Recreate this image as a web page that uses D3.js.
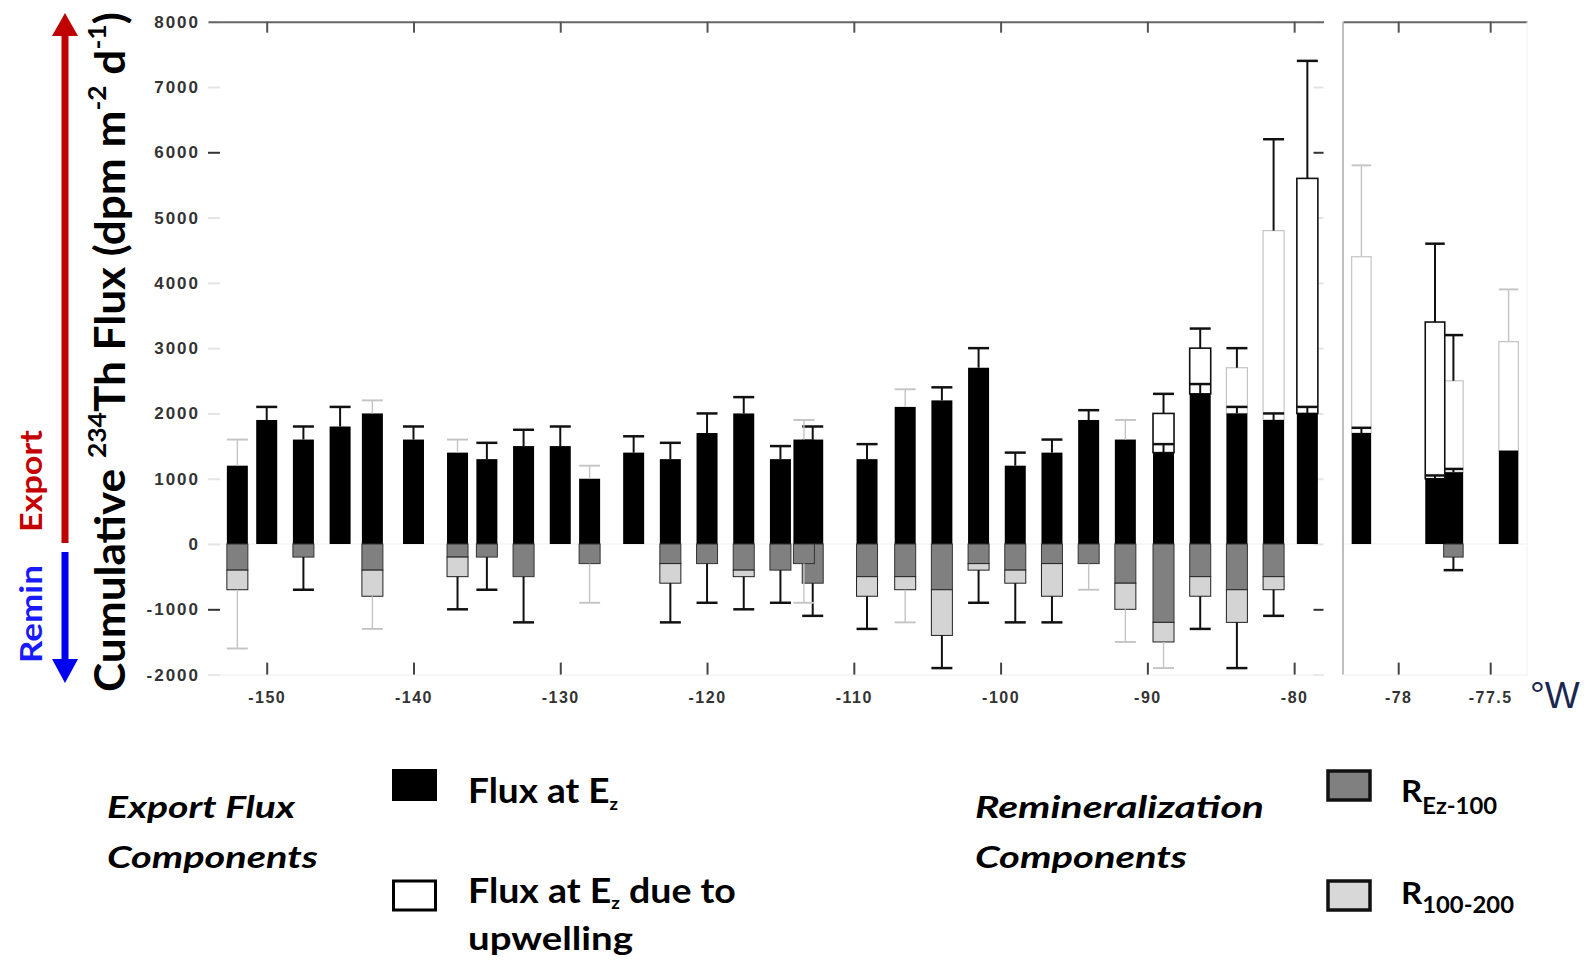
<!DOCTYPE html>
<html>
<head>
<meta charset="utf-8">
<script src="https://cdn.jsdelivr.net/npm/d3@7"></script>
<style>
  body { margin: 0; background: #fff; }
  svg { display: block; }
</style>
</head>
<body>
<div id="chart"></div>
<script>
// ---- left panel: stations 152W .. 79W ----
const lonL    = [-152, -150, -147.5, -145, -142.8, -140, -137, -135, -132.5, -130, -128, -125, -122.5, -120, -117.5,
                 -115, -113.4, -112.8, -109.1, -106.5, -104, -101.5, -99, -96.5, -94, -91.5, -88.9, -86.4, -83.9, -81.4, -79.1];
// flux at Ez (black)
const fluxEzL = [1200, 1900, 1600, 1800, 2000, 1600, 1400, 1300, 1500, 1500, 1000, 1400, 1300, 1700, 2000,
                 1300, 1600, 1600, 1300, 2100, 2200, 2700, 1200, 1400, 1900, 1600, 1400, 2300, 2000, 1900, 2000];
// error on the black part, only shown where upwelling sits on top
const ezErrL  = [null, null, null, null, null, null, null, null, null, null, null, null, null, null, null,
                 null, null, null, null, null, null, null, null, null, null, null, 1530, 2450, 2100, 2000, 2100];
// cumulative top of the upwelling part (white)
const upTopL  = [null, null, null, null, null, null, null, null, null, null, null, null, null, null, null,
                 null, null, null, null, null, null, null, null, null, null, null, 2000, 3000, 2700, 4800, 5600];
const errHiL  = [1600, 2100, 1800, 2100, 2200, 1800, 1600, 1550, 1750, 1800, 1200, 1650, 1550, 2000, 2250,
                 1500, 1900, 1800, 1530, 2370, 2400, 3000, 1400, 1600, 2050, 1900, 2300, 3300, 3000, 6200, 7400];
// cumulative remineralization: R Ez-100 (dark grey) then R 100-200 (light grey)
const remEzL  = [-400, 0, -200, 0, -400, 0, -200, -200, -500, 0, -300, 0, -300, -300, -400,
                 -400, -300, -600, -500, -500, -700, -300, -400, -300, -300, -600, -1200, -500, -700, -500, 0];
const rem100L = [-700, null, null, null, -800, null, -500, null, null, null, null, null, -600, null, -500,
                 null, null, null, -800, -700, -1400, -400, -600, -800, null, -1000, -1500, -800, -1200, -700, null];
const errLoL  = [-1600, null, -700, null, -1300, null, -1000, -700, -1200, null, -900, null, -1200, -900, -1000,
                 -900, -900, -1100, -1300, -1200, -1900, -900, -1200, -1200, -700, -1500, -1900, -1300, -1900, -1100, null];

// ---- right panel: coastal stations ----
const lonR    = [-78.2, -77.8, -77.7, -77.4];
const fluxEzR = [1700, 1000, 1100, 1430];
const ezErrR  = [1780, 1050, 1150, null];
const upTopR  = [4400, 3400, 2500, 3100];
const errHiR  = [5800, 4600, 3200, 3900];
const remEzR  = [0, 0, -200, 0];
const rem100R = [null, null, null, null];
const errLoR  = [null, null, -400, null];

const yTicks  = [-2000, -1000, 0, 1000, 2000, 3000, 4000, 5000, 6000, 7000, 8000];
const xTicksL = [-150, -140, -130, -120, -110, -100, -90, -80];
const xTicksR = [-78, -77.5];

// line shades of the error bars (d = dark, l = light), one letter per bar
const hiShadeL = 'ldddl dlddd ldddd dlddl ddddd ldddd d'.replace(/ /g, '');
const loShadeL = 'l-d-l -ddd- l-ddd dlddl ddddl llddd -'.replace(/ /g, '');
const upShadeL = '-'.repeat(26) + 'ddlld';
const hiShadeR = 'lddl', loShadeR = '--d-', upShadeR = 'ldll';

const W = 1588, H = 960;
const FONT = 'Lato, "Open Sans", sans-serif';
const svg = d3.select('#chart').append('svg').attr('width', W).attr('height', H);

const y  = d3.scaleLinear().domain([-2000, 8000]).range([674.6, 21.7]);
const xL = d3.scaleLinear().domain([-154, -78]).range([208, 1323.5]);
const xR = d3.scaleLinear().domain([-78.3, -77.3]).range([1343, 1527]);

const shade = s => s === 'l' ? '#c4c4c4' : '#111';
const shadeW = s => s === 'l' ? 1.4 : 2;

// zero lines
[[xL, 208, 1323.5], [xR, 1343, 1527]].forEach(([sc, a, b]) => {
  svg.append('line').attr('x1', a).attr('x2', b).attr('y1', y(0)).attr('y2', y(0))
    .attr('stroke', '#f0f0f0').attr('stroke-width', 1);
});

// ---- axes ----
const yAx = svg.append('g').attr('transform', 'translate(208,0)')
  .call(d3.axisLeft(y).tickValues(yTicks).tickSizeInner(-12).tickSizeOuter(0).tickPadding(8).tickFormat(d => String(d)));
yAx.select('.domain').remove();
yAx.selectAll('.tick line').attr('stroke', d => (d === 6000 || d === -1000) ? '#333' : '#e4e4e4').attr('stroke-width', 2);
yAx.selectAll('.tick text').attr('font-family', '"Liberation Sans", Arial, sans-serif').attr('font-weight', 700)
  .attr('font-size', 17).attr('fill', '#333').attr('letter-spacing', 2);

const yAxR = svg.append('g').attr('transform', 'translate(1323.5,0)')
  .call(d3.axisRight(y).tickValues(yTicks).tickSizeInner(-10).tickSizeOuter(0).tickFormat(''));
yAxR.select('.domain').remove();
yAxR.selectAll('.tick line').attr('stroke', d => (d === 6000 || d === -1000) ? '#333' : '#e4e4e4').attr('stroke-width', 2);

function xAxes(sc, ticks) {
  const top = svg.append('g').attr('transform', `translate(0,${y(8000)})`)
    .call(d3.axisTop(sc).tickValues(ticks).tickSizeInner(-11).tickSizeOuter(0).tickFormat(''));
  top.select('.domain').attr('stroke', '#666').attr('stroke-width', 2);
  top.selectAll('.tick line').attr('stroke', '#555').attr('stroke-width', 2);

  const bot = svg.append('g').attr('transform', `translate(0,${y(-2000)})`)
    .call(d3.axisBottom(sc).tickValues(ticks).tickSizeInner(-12).tickSizeOuter(0).tickPadding(17).tickFormat(d => String(d)));
  bot.select('.domain').attr('stroke', '#eeeeee').attr('stroke-width', 1);
  bot.selectAll('.tick line').attr('stroke', '#444').attr('stroke-width', 2);
  bot.selectAll('.tick text').attr('font-family', '"Liberation Sans", Arial, sans-serif').attr('font-weight', 700)
    .attr('font-size', 16).attr('fill', '#333').attr('letter-spacing', 1.5);
}
xAxes(xL, xTicksL);
xAxes(xR, xTicksR);

// right panel frame
svg.append('line').attr('x1', xR(-78.3)).attr('x2', xR(-78.3)).attr('y1', y(8000)).attr('y2', y(-2000))
  .attr('stroke', '#aaa').attr('stroke-width', 1.5);
svg.append('line').attr('x1', xR(-77.3)).attr('x2', xR(-77.3)).attr('y1', y(8000)).attr('y2', y(-2000))
  .attr('stroke', '#f2f2f2').attr('stroke-width', 1);

// ---- bars ----
function rows(lon, ez, ezErr, up, hi, rA, rB, lo, hs, ls, us) {
  return lon.map((d, i) => ({ lon: d, ez: ez[i], ezErr: ezErr[i], up: up[i], hi: hi[i],
    rA: rA[i], rB: rB[i], lo: lo[i], hs: hs[i], ls: ls[i], us: us[i] }));
}

function drawBars(data, x, bw) {
  // reverse order so the narrow overlapping bar outlines stay on top
  const g = svg.append('g').selectAll('g').data(data.slice().reverse()).join('g');
  const half = bw / 2;

  g.filter(d => d.up != null).append('rect')
    .attr('x', d => x(d.lon) - half).attr('width', bw)
    .attr('y', d => y(d.up)).attr('height', d => y(d.ez) - y(d.up))
    .attr('fill', '#fff').attr('stroke', d => shade(d.us)).attr('stroke-width', d => d.us === 'l' ? 1.2 : 1.6);

  g.append('rect')
    .attr('x', d => x(d.lon) - half).attr('width', bw)
    .attr('y', d => y(d.ez)).attr('height', d => y(0) - y(d.ez))
    .attr('fill', '#000');

  g.filter(d => d.rA < 0).append('rect')
    .attr('x', d => x(d.lon) - half).attr('width', bw)
    .attr('y', y(0)).attr('height', d => y(d.rA) - y(0))
    .attr('fill', '#808080').attr('stroke', '#333').attr('stroke-width', 1);

  g.filter(d => d.rB != null).append('rect')
    .attr('x', d => x(d.lon) - half).attr('width', bw)
    .attr('y', d => y(d.rA)).attr('height', d => y(d.rB) - y(d.rA))
    .attr('fill', '#d4d4d4').attr('stroke', '#222').attr('stroke-width', 1);

  // error of the black part under the upwelling block
  const ge = g.filter(d => d.ezErr != null);
  ge.append('line').attr('x1', d => x(d.lon)).attr('x2', d => x(d.lon))
    .attr('y1', d => y(d.ez)).attr('y2', d => y(d.ezErr)).attr('stroke', '#111').attr('stroke-width', 2);
  ge.append('line').attr('x1', d => x(d.lon) - half).attr('x2', d => x(d.lon) + half)
    .attr('y1', d => y(d.ezErr)).attr('y2', d => y(d.ezErr)).attr('stroke', '#111').attr('stroke-width', 2.5);

  // upper error bar
  g.append('line').attr('x1', d => x(d.lon)).attr('x2', d => x(d.lon))
    .attr('y1', d => y(d.up != null ? d.up : d.ez)).attr('y2', d => y(d.hi))
    .attr('stroke', d => shade(d.hs)).attr('stroke-width', d => shadeW(d.hs));
  g.append('line').attr('x1', d => x(d.lon) - half).attr('x2', d => x(d.lon) + half)
    .attr('y1', d => y(d.hi)).attr('y2', d => y(d.hi))
    .attr('stroke', d => shade(d.hs)).attr('stroke-width', d => shadeW(d.hs) + 0.5);

  // lower error bar
  const gl = g.filter(d => d.lo != null);
  gl.append('line').attr('x1', d => x(d.lon)).attr('x2', d => x(d.lon))
    .attr('y1', d => y(d.rB != null ? d.rB : d.rA)).attr('y2', d => y(d.lo))
    .attr('stroke', d => shade(d.ls)).attr('stroke-width', d => shadeW(d.ls));
  gl.append('line').attr('x1', d => x(d.lon) - half).attr('x2', d => x(d.lon) + half)
    .attr('y1', d => y(d.lo)).attr('y2', d => y(d.lo))
    .attr('stroke', d => shade(d.ls)).attr('stroke-width', d => shadeW(d.ls) + 0.5);
}

drawBars(rows(lonL, fluxEzL, ezErrL, upTopL, errHiL, remEzL, rem100L, errLoL, hiShadeL, loShadeL, upShadeL), xL, 21);
drawBars(rows(lonR, fluxEzR, ezErrR, upTopR, errHiR, remEzR, rem100R, errLoR, hiShadeR, loShadeR, upShadeR), xR, 19.5);

// ---- text helper: draws a label and stretches it to a given length ----
function fitLabel(o) {
  const g = svg.append('g');
  const t = g.append('text')
    .attr('font-family', FONT).attr('font-weight', 700)
    .attr('font-size', o.size).attr('font-style', o.italic ? 'italic' : 'normal')
    .attr('fill', o.fill || '#000');
  let shift = 0;
  o.parts.forEach(([txt, kind]) => {
    let target = 0, k = 1;
    if (kind === 'sub') { target = o.subDy; k = o.subK; }
    if (kind === 'sup') { target = -o.supDy; k = o.supK; }
    t.append('tspan').text(txt).attr('dy', target - shift).attr('font-size', o.size * k);
    shift = target;
  });
  const len = t.node().getComputedTextLength();
  g.attr('transform', `translate(${o.x},${o.y})` + (o.rotate ? ` rotate(${o.rotate})` : '') +
    ` scale(${o.width / len},${o.sy || 1})`);
}

// y axis title and direction arrows
fitLabel({ x: 125, y: 692, rotate: -90, width: 680, size: 42, supK: 0.6, supDy: 19,
  parts: [['Cumulative ', ''], ['234', 'sup'], ['Th Flux (dpm m', ''], ['-2', 'sup'], [' d', ''], ['-1', 'sup'], [')', '']] });
fitLabel({ x: 42, y: 532, rotate: -90, width: 102, size: 31, fill: '#c40000', parts: [['Export', '']] });
fitLabel({ x: 42, y: 663, rotate: -90, width: 98, size: 31, fill: '#1a1aff', parts: [['Remin', '']] });

svg.append('rect').attr('x', 61.5).attr('y', 33).attr('width', 7).attr('height', 510).attr('fill', '#c00000');
svg.append('path').attr('d', 'M52,36 L78,36 L65,13 Z').attr('fill', '#c00000');
svg.append('rect').attr('x', 61.5).attr('y', 552).attr('width', 7).attr('height', 110).attr('fill', '#0000f0');
svg.append('path').attr('d', 'M52,659 L78,659 L65,683 Z').attr('fill', '#0000f0');

svg.append('text').attr('x', 1530).attr('y', 708).attr('font-family', '"Liberation Sans", Arial, sans-serif')
  .attr('font-size', 37).attr('fill', '#1a2850').text('°W');

// ---- legend ----
fitLabel({ x: 107, y: 818, width: 188, size: 30, italic: true, parts: [['Export Flux', '']] });
fitLabel({ x: 107, y: 868, width: 211, size: 30, italic: true, parts: [['Components', '']] });
fitLabel({ x: 975, y: 818, width: 289, size: 30, italic: true, parts: [['Remineralization', '']] });
fitLabel({ x: 975, y: 868, width: 212, size: 30, italic: true, parts: [['Components', '']] });

svg.append('rect').attr('x', 392).attr('y', 769).attr('width', 45).attr('height', 32).attr('fill', '#000');
svg.append('rect').attr('x', 393.5).attr('y', 881).attr('width', 42).attr('height', 29)
  .attr('fill', '#fff').attr('stroke', '#000').attr('stroke-width', 3);
svg.append('rect').attr('x', 1328).attr('y', 771).attr('width', 42).attr('height', 29)
  .attr('fill', '#808080').attr('stroke', '#111').attr('stroke-width', 3.5);
svg.append('rect').attr('x', 1328).attr('y', 881).attr('width', 42).attr('height', 29)
  .attr('fill', '#d8d8d8').attr('stroke', '#111').attr('stroke-width', 3.5);

fitLabel({ x: 468, y: 803, width: 150, size: 34, subK: 0.5, subDy: 7, parts: [['Flux at E', ''], ['z', 'sub']] });
fitLabel({ x: 468, y: 903, width: 268, size: 34, subK: 0.5, subDy: 6,
  parts: [['Flux at E', ''], ['z', 'sub'], [' due to', '']] });
fitLabel({ x: 468, y: 950, width: 165, size: 33, parts: [['upwelling', '']] });
fitLabel({ x: 1401, y: 802, width: 96, size: 31, subK: 0.72, subDy: 12, parts: [['R', ''], ['Ez-100', 'sub']] });
fitLabel({ x: 1401, y: 904, width: 113, size: 31, subK: 0.72, subDy: 9, parts: [['R', ''], ['100-200', 'sub']] });
</script>
</body>
</html>
